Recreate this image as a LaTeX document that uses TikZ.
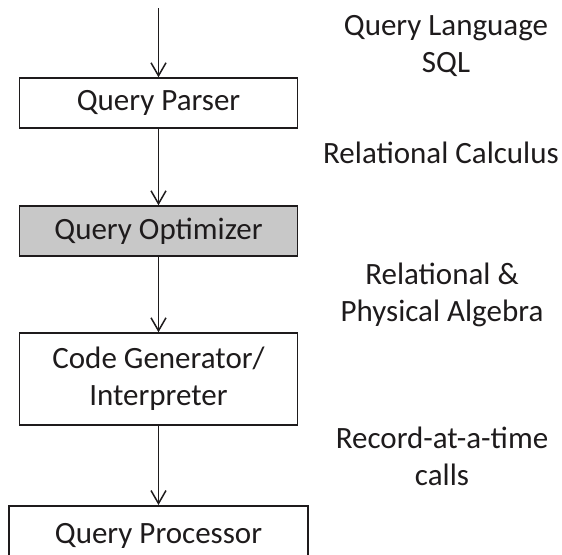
\documentclass[tikz,border=0pt]{standalone}
\usepackage{fontspec}
\setmainfont{Carlito}
\usetikzlibrary{arrows.meta}
\definecolor{ink}{RGB}{30,27,28}
\definecolor{optgrey}{RGB}{200,200,200}
\begin{document}
\begin{tikzpicture}[x=1pt,y=-1pt,
  every node/.style={font=\fontsize{31}{37}\selectfont, text=ink},
  box/.style={draw=ink, line width=1.5pt, minimum width=278pt, inner sep=0pt, align=center},
  lbl/.style={align=center, inner sep=0pt},
  flow/.style={draw=ink, line width=1.5pt, -{Straight Barb[length=13pt,width=15pt,line width=1.5pt]}}
]
\useasboundingbox (0,0) rectangle (562,554);
\clip (0,0) rectangle (562,554);
\coordinate (start) at (158.5,8);
\node[box, minimum height=50pt] (parser) at (158.5,103) {Query Parser};
\node[box, minimum height=50pt, fill=optgrey] (opt) at (158.5,231) {Query Optimizer};
\node[box, minimum height=92pt] (gen) at (158.5,379) {Code Generator/\\Interpreter};
\node[box, minimum width=299pt, minimum height=100pt, anchor=north] (proc) at (158.5,505) {};
\node[lbl] (proctext) at (158.5,536) {Query Processor};
\draw[flow] (start) -- (parser.north);
\draw[flow] (parser.south) -- (opt.north);
\draw[flow] (opt.south) -- (gen.north);
\draw[flow] (gen.south) -- (proc.north);
\node[lbl] (l1) at (446,46) {Query Language\\SQL};
\node[lbl] (l2) at (441,153) {Relational Calculus};
\node[lbl] (l3) at (442,295) {Relational \&\\Physical Algebra};
\node[lbl] (l4) at (442,456) {Record-at-a-time\\calls};
\end{tikzpicture}
\end{document}
